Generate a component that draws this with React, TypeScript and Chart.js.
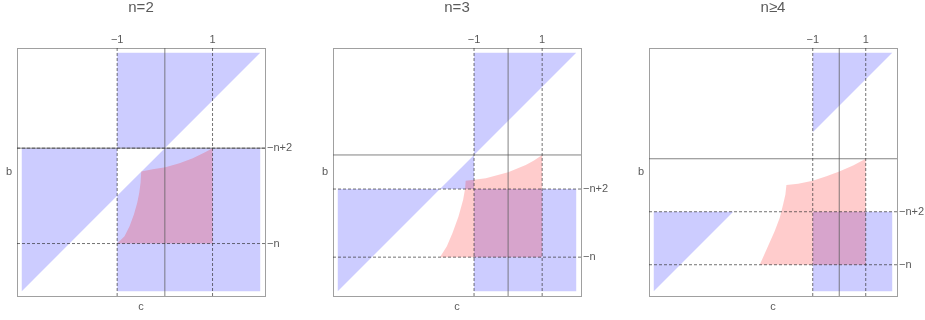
import React, { useEffect, useRef } from 'react';
import { Chart, registerables } from 'chart.js';

Chart.register(...registerables);

// ---------- data ----------
const panelTitles = ['n=2', 'n=3', 'n≥4'];
const cRanges = [[-3.1, 2.1], [-5.14, 2.14], [-7.18, 2.18]];
const bRanges = [[-3.1, 2.1], [-4.14, 3.14], [-5.18, 4.18]];

const xAxisLabel = 'c';
const yAxisLabel = 'b';
const topTickValues = [-1, 1];
const topTickLabels = ['−1', '1'];
const rightTickLabels = ['−n+2', '−n'];
const rightTickValues = [[0, -2], [-1, -3], [-2, -4]];
const axisLineC = 0;
const axisLineB = 0;

// blue regions, [c, b] vertices
const blueN2 = [
  [[-1, 0], [-1, 2], [2, 2], [0, 0]],
  [[-3, -3], [-3, 0], [-1, 0], [-1, -1]],
  [[-1, -1], [0, 0], [2, 0], [2, -3], [-1, -3]],
];
const blueN3 = [
  [[-1, 0], [-1, 3], [2, 3]],
  [[-5, -4], [-5, -1], [-2, -1]],
  [[-2, -1], [-1, 0], [-1, -1]],
  [[-1, -4], [2, -4], [2, -1], [-1, -1]],
];
const blueN4 = [
  [[-1, 1], [-1, 4], [2, 4]],
  [[-7, -5], [-7, -2], [-4, -2]],
  [[-1, -5], [2, -5], [2, -2], [-1, -2]],
];

// pink regions, [c, b] vertices
const pinkN2 = [
  [-1, -2], [1, -2], [1, 0], [0.832, -0.091], [0.586, -0.211], [0.305, -0.316],
  [0.011, -0.4], [-0.256, -0.442], [-0.495, -0.491], [-0.509, -0.723], [-0.537, -0.933],
  [-0.579, -1.144], [-0.649, -1.389], [-0.74, -1.635], [-0.846, -1.846],
];
const pinkN3 = [
  [-2, -3], [1, -3], [1, 0], [0.76, -0.16], [0.518, -0.293], [0, -0.51], [-0.655, -0.683],
  [-1, -0.73], [-1.246, -0.757], [-1.261, -0.975], [-1.32, -1.316], [-1.456, -1.804],
  [-1.632, -2.291], [-1.798, -2.681],
];
const pinkN4 = [
  [-3, -4], [1, -4], [1, 0], [0.77, -0.12], [0.522, -0.25], [0, -0.48], [-0.484, -0.66],
  [-1, -0.83], [-1.553, -0.943], [-1.994, -0.994], [-2.032, -1.346], [-2.119, -1.723],
  [-2.245, -2.226], [-2.434, -2.73], [-2.66, -3.233],
];

const blueRegions = [blueN2, blueN3, blueN4];
const pinkRegions = [pinkN2, pinkN3, pinkN4];

// ---------- style / layout ----------
const FONT = "'Liberation Sans', Arial, Helvetica, sans-serif";
const TEXT_COLOR = '#5a5a5a';
const FRAME_COLOR = '#a0a0a0';
const SOLID_COLOR = 'rgba(90,90,90,0.75)';
const DASH_COLOR = 'rgba(40,40,40,0.65)';
const BLUE = 'rgba(0,0,255,0.2)';
const PINK = 'rgba(255,0,0,0.2)';
const frameLefts = [17, 333, 649];
const SIDE = 34;
const CANVAS_W = 248 + 2 * SIDE;
const CANVAS_H = 320;
const TITLE_SIZE = 15;
const TITLE_LH = 1.1;
const PLOT_TOP = 48;
const BOTTOM_AXIS_H = 24;

function toPts(poly: number[][]) {
  return poly.map(([x, y]) => ({ x, y }));
}

function lineDs(data: any[], color: string, dash: number[]) {
  return {
    data,
    showLine: true,
    fill: false,
    borderColor: color,
    borderWidth: 1,
    borderDash: dash,
    pointRadius: 0,
    pointHoverRadius: 0,
    order: 0,
  };
}

function buildConfig(i: number): any {
  const [cmin, cmax] = cRanges[i];
  const [bmin, bmax] = bRanges[i];
  const datasets: any[] = [];

  topTickValues.forEach((v) =>
    datasets.push(lineDs([{ x: v, y: bmin }, { x: v, y: bmax }], DASH_COLOR, [3, 2]))
  );
  rightTickValues[i].forEach((v) =>
    datasets.push(lineDs([{ x: cmin, y: v }, { x: cmax, y: v }], DASH_COLOR, [3, 2]))
  );
  datasets.push(lineDs([{ x: axisLineC, y: bmin }, { x: axisLineC, y: bmax }], SOLID_COLOR, []));
  datasets.push(lineDs([{ x: cmin, y: axisLineB }, { x: cmax, y: axisLineB }], SOLID_COLOR, []));

  datasets.push({
    data: toPts(pinkRegions[i]),
    showLine: true,
    fill: 'shape',
    backgroundColor: PINK,
    borderWidth: 0,
    pointRadius: 0,
    pointHoverRadius: 0,
    order: 1,
  });
  blueRegions[i].forEach((poly) =>
    datasets.push({
      data: toPts(poly),
      showLine: true,
      fill: 'shape',
      backgroundColor: BLUE,
      borderWidth: 0,
      pointRadius: 0,
      pointHoverRadius: 0,
      order: 2,
    })
  );

  const tickFont = { family: FONT, size: 11 };
  const titleH = TITLE_SIZE * TITLE_LH;
  const noGrid = { display: false, drawTicks: false };
  const frame = { display: true, color: FRAME_COLOR, width: 1 };

  return {
    type: 'scatter',
    data: { datasets },
    options: {
      animation: false,
      responsive: true,
      maintainAspectRatio: false,
      devicePixelRatio: 1,
      layout: { padding: 0 },
      events: [],
      plugins: {
        legend: { display: false },
        tooltip: { enabled: false },
        title: {
          display: true,
          text: panelTitles[i],
          color: TEXT_COLOR,
          font: { family: FONT, size: TITLE_SIZE, weight: 'normal', lineHeight: TITLE_LH },
          padding: { top: 0, bottom: 0 },
        },
      },
      scales: {
        x: {
          type: 'linear',
          position: 'bottom',
          min: cmin,
          max: cmax,
          grid: noGrid,
          border: frame,
          afterBuildTicks: (a: any) => {
            a.ticks = [{ value: (cmin + cmax) / 2 }];
          },
          ticks: {
            callback: () => xAxisLabel,
            padding: 4,
            color: TEXT_COLOR,
            font: tickFont,
            autoSkip: false,
            maxRotation: 0,
          },
          afterFit: (s: any) => {
            s.height = BOTTOM_AXIS_H;
          },
        },
        x2: {
          type: 'linear',
          position: 'top',
          min: cmin,
          max: cmax,
          grid: noGrid,
          border: frame,
          afterBuildTicks: (a: any) => {
            a.ticks = topTickValues.map((v) => ({ value: v }));
          },
          ticks: {
            callback: (_v: any, k: number) => topTickLabels[k],
            padding: 1,
            color: TEXT_COLOR,
            font: tickFont,
            autoSkip: false,
            maxRotation: 0,
          },
          afterFit: (s: any) => {
            s.height = PLOT_TOP - titleH;
          },
        },
        y: {
          type: 'linear',
          position: 'left',
          min: bmin,
          max: bmax,
          grid: noGrid,
          border: frame,
          afterBuildTicks: (a: any) => {
            a.ticks = [{ value: (bmin + bmax) / 2 }];
          },
          ticks: {
            callback: () => yAxisLabel,
            padding: 5,
            color: TEXT_COLOR,
            font: tickFont,
            autoSkip: false,
          },
          afterFit: (s: any) => {
            s.width = SIDE;
          },
        },
        y2: {
          type: 'linear',
          position: 'right',
          min: bmin,
          max: bmax,
          grid: noGrid,
          border: frame,
          afterBuildTicks: (a: any) => {
            a.ticks = rightTickValues[i].map((v) => ({ value: v }));
          },
          ticks: {
            callback: (_v: any, k: number) => rightTickLabels[k],
            padding: 2,
            color: TEXT_COLOR,
            font: tickFont,
            autoSkip: false,
          },
          afterFit: (s: any) => {
            s.width = SIDE;
          },
        },
      },
    },
  };
}

function Panel({ index }: { index: number }) {
  const ref = useRef<HTMLCanvasElement | null>(null);
  useEffect(() => {
    if (!ref.current) return;
    const chart = new Chart(ref.current, buildConfig(index));
    return () => chart.destroy();
  }, [index]);
  return (
    <div
      style={{
        position: 'absolute',
        left: frameLefts[index] - SIDE,
        top: 0,
        width: CANVAS_W,
        height: CANVAS_H,
      }}
    >
      <canvas ref={ref} />
    </div>
  );
}

export default function App() {
  return (
    <div
      style={{
        position: 'absolute',
        left: 0,
        top: 0,
        width: 925,
        height: 320,
        overflow: 'hidden',
        background: '#fff',
      }}
    >
      {panelTitles.map((_t, i) => (
        <Panel key={i} index={i} />
      ))}
    </div>
  );
}
